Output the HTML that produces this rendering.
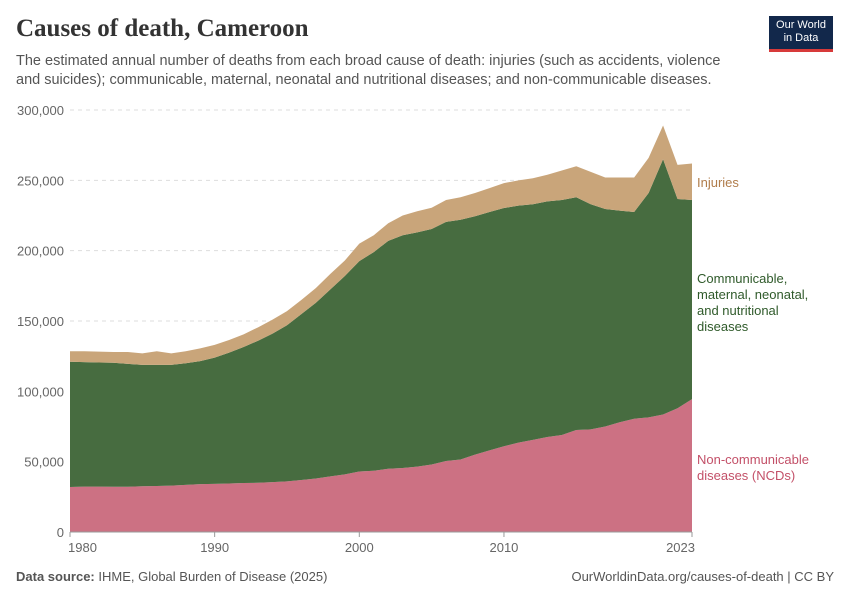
<!DOCTYPE html>
<html><head><meta charset="utf-8">
<style>
body{margin:0;background:#fff;font-family:"Liberation Sans",sans-serif;}
#wrap{position:relative;width:850px;height:600px;overflow:hidden;}
h1{position:absolute;left:16px;top:15px;margin:0;font-family:"Liberation Serif",serif;font-weight:bold;font-size:25px;color:#333;}
.sub{position:absolute;left:16px;top:52px;width:720px;font-size:14.5px;line-height:19px;color:#555;}
.logo{position:absolute;left:769px;top:16px;width:64px;height:36px;background:#12284b;color:#fff;font-size:11px;line-height:13px;text-align:center;padding-top:3px;box-sizing:border-box;border-bottom:3px solid #d73a3a;}
.foot{position:absolute;top:569px;font-size:13px;color:#555;}
</style></head><body>
<div id="wrap">
<h1>Causes of death, Cameroon</h1>
<div class="sub">The estimated annual number of deaths from each broad cause of death: injuries (such as accidents, violence and suicides); communicable, maternal, neonatal and nutritional diseases; and non-communicable diseases.</div>
<div class="logo">Our World<br>in Data</div>
<svg id="chart" width="850" height="600" style="position:absolute;left:0;top:0"></svg>
<div class="foot" style="left:16px"><b>Data source:</b> IHME, Global Burden of Disease (2025)</div>
<div class="foot" style="right:16px">OurWorldinData.org/causes-of-death | CC BY</div>
</div>
<script>
const years=[];for(let y=1980;y<=2023;y++)years.push(y);
const ncd=[32,32.3,32.3,32.2,32.2,32.5,32.7,33,33.5,34,34.2,34.5,34.8,35,35.5,36,37,38,39.5,41,43,43.5,45,45.5,46.5,48,50.5,51.5,55,58,61,63.5,65.5,67.5,69,72.5,73,75,78,80.5,81.5,83.5,88,94.5];
const greenTop=[121,120.8,120.5,120.3,119.5,118.8,118.8,118.8,120,121.5,124,127.5,131.5,136,141,147,155,163,172.5,182,192.6,199,207,211,213,215.4,220.5,222,224.5,227.5,230.3,232,233,235,236,238,233,229.6,228.5,227.5,241,265,236.7,236];
const allTop=[128.5,128.5,128.2,128,128,127,128.5,127,128.5,130.5,133,136.5,140.5,145.5,151,157,165,173.5,183.5,193,205,211,219.5,225,228,230.5,236,238,241,244.5,248,250,251.5,254,257,260,256,252,252,252,266,289,261,262];
const communicable=greenTop.map((v,i)=>+(v-ncd[i]).toFixed(1));
const injuries=allTop.map((v,i)=>+(v-greenTop[i]).toFixed(1));
const yTicks=[0,50000,100000,150000,200000,250000,300000];
const yTickLabels=["0","50,000","100,000","150,000","200,000","250,000","300,000"];
const xTicks=[1980,1990,2000,2010,2023];

const svg=document.getElementById('chart');const NS='http://www.w3.org/2000/svg';
const X=y=>70+(y-1980)*(692-70)/43;
const Y=v=>532-v*(532-110)/300000;
function mk(t,a){const e=document.createElementNS(NS,t);for(const k in a)e.setAttribute(k,a[k]);svg.appendChild(e);return e;}
yTicks.forEach((t,i)=>{
 if(t>0){const l=mk('line',{x1:70,x2:692,y1:Y(t),y2:Y(t),stroke:'#ddd','stroke-dasharray':'4,4'});
 
 }
 const tx=mk('text',{x:64,y:Y(t)+5,'text-anchor':'end','font-size':13,fill:'#666','font-family':'Liberation Sans,sans-serif'});
 tx.textContent=yTickLabels[i];
 
 
});
const series=[{d:ncd,c:'#cc7183',n:'ncd-area'},{d:communicable,c:'#476c40',n:'communicable-area'},{d:injuries,c:'#c9a57a',n:'injuries-area'}];
let base=years.map(()=>0);
series.forEach(s=>{
 const top=base.map((b,i)=>b+s.d[i]*1000);
 let p='M'+years.map((y,i)=>X(y)+','+Y(top[i])).join('L');
 for(let i=years.length-1;i>=0;i--)p+='L'+X(years[i])+','+Y(base[i]);
 const e=mk('path',{d:p+'Z',fill:s.c});
 
 
 base=top;
});
const ax=mk('line',{x1:70,x2:692,y1:532,y2:532,stroke:'#999'});


xTicks.forEach(t=>{
 mk('line',{x1:X(t),x2:X(t),y1:532,y2:537,stroke:'#999'});
 const tx=mk('text',{x:X(t),y:552,'text-anchor':t===1980?'start':(t===2023?'end':'middle'),'font-size':13,fill:'#666','font-family':'Liberation Sans,sans-serif'});
 if(t===1980)tx.setAttribute('x',X(t)-2);
 if(t===2023)tx.setAttribute('x',X(t)+3);
 tx.textContent=t;
 
 
});
const labs=[{t:['Injuries'],y:187,c:'#b07c4a',n:'legend-injuries'},{t:['Communicable,','maternal, neonatal,','and nutritional','diseases'],y:283,c:'#2f5a2a',n:'legend-communicable'},{t:['Non-communicable','diseases (NCDs)'],y:464,c:'#c35068',n:'legend-ncd'}];
labs.forEach(l=>{
 const tx=mk('text',{x:697,y:l.y,'font-size':13,fill:l.c,'font-family':'Liberation Sans,sans-serif'});
 l.t.forEach((s,i)=>{const ts=document.createElementNS(NS,'tspan');ts.setAttribute('x',697);ts.setAttribute('dy',i?16:0);ts.textContent=s;tx.appendChild(ts);});
 
 
});
</script>
</body></html>
